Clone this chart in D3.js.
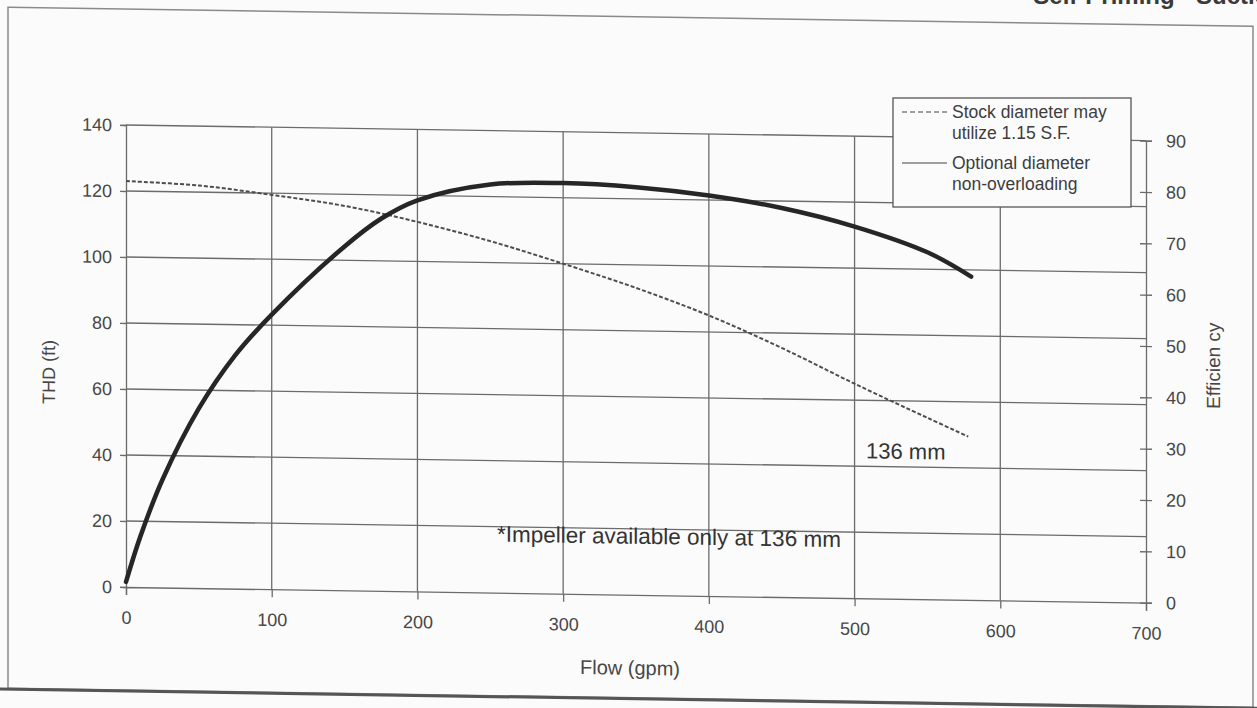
<!DOCTYPE html>
<html>
<head>
<meta charset="utf-8">
<script src="https://cdn.jsdelivr.net/npm/d3@7"></script>
<style>
  body { margin: 0; background: #fcfbfb; }
  svg { display: block; font-family: "Liberation Sans", Arial, sans-serif; }
</style>
</head>
<body>
<div id="chart"></div>
<script>
/* values */
var headFlow = [0, 50, 100, 150, 200, 250, 300, 350, 400, 450, 500, 550, 578];
var headFt   = [123, 122, 119.5, 116.5, 112, 106.5, 100, 93, 85, 75.5, 65, 55, 49.5];

var effFlow = [0, 10, 25, 50, 75, 100, 150, 175, 200, 250, 300, 350, 400, 450, 500, 550, 580];
var effPct  = [1, 10, 21, 35, 45.5, 53.5, 67, 72.5, 76.2, 79.5, 80, 79.4, 78, 75.8, 72.4, 67.6, 63];

var flowTicks = [0, 100, 200, 300, 400, 500, 600, 700];
var headTicks = [0, 20, 40, 60, 80, 100, 120, 140];
var effTicks  = [0, 10, 20, 30, 40, 50, 60, 70, 80, 90];

var legendLabels = [["Stock diameter may", "utilize 1.15 S.F."], ["Optional diameter", "non-overloading"]];

var width = 1257, height = 708;
var plotL = 126, plotR = 1146, plotT = 125, plotB = 587;

var svg = d3.select("#chart").append("svg")
    .attr("width", width)
    .attr("height", height);

/* the scan is tilted a little, so the whole sheet gets a slight skew */
var g = svg.append("g")
    .attr("transform", "translate(" + plotL + ",0) skewY(0.88) translate(" + (-plotL) + ",0)");

var x = d3.scaleLinear().domain([0, 700]).range([plotL, plotR]);
var yHead = d3.scaleLinear().domain([0, 140]).range([plotB, plotT]);
var yEff = d3.scaleLinear().domain([0, 90]).range([plotB, plotT]);

var gridColor = "#6b6b6b", textColor = "#474747";

/* page frame + cut off heading */
g.append("rect")
    .attr("x", 8).attr("y", 9)
    .attr("width", 1245).attr("height", 681)
    .style("fill", "none")
    .style("stroke", "#8a8a8a")
    .style("stroke-width", 1.5);
g.append("line")
    .attr("x1", 0).attr("x2", width)
    .attr("y1", 691).attr("y2", 691)
    .style("stroke", "#555")
    .style("stroke-width", 3);
svg.append("text")
    .attr("x", 1284).attr("y", 4)
    .attr("text-anchor", "end")
    .style("font-size", "24px")
    .style("font-weight", "bold")
    .style("fill", "#3a3a3a")
    .text("Self-Priming  - Suction");

/* grid */
g.append("g").selectAll("line")
    .data(flowTicks.slice(1, -1))
    .enter().append("line")
    .attr("x1", function(d) { return x(d); })
    .attr("x2", function(d) { return x(d); })
    .attr("y1", plotT).attr("y2", plotB)
    .style("stroke", gridColor)
    .style("stroke-width", 1.3);

g.append("g").selectAll("line")
    .data(headTicks.slice(1, -1))
    .enter().append("line")
    .attr("x1", plotL).attr("x2", plotR)
    .attr("y1", function(d) { return yHead(d); })
    .attr("y2", function(d) { return yHead(d); })
    .style("stroke", gridColor)
    .style("stroke-width", 1.3);

g.append("line")
    .attr("x1", plotL).attr("x2", plotR)
    .attr("y1", plotT).attr("y2", plotT)
    .style("stroke", gridColor)
    .style("stroke-width", 1.3);

/* axes */
var xAxis = g.append("g")
    .attr("transform", "translate(0," + plotB + ")")
    .call(d3.axisBottom(x).tickValues(flowTicks).tickSize(8).tickPadding(16));

var leftAxis = g.append("g")
    .attr("transform", "translate(" + plotL + ",0)")
    .call(d3.axisLeft(yHead).tickValues(headTicks).tickSize(6).tickPadding(8));

var rightAxis = g.append("g")
    .attr("transform", "translate(" + plotR + ",0)")
    .call(d3.axisRight(yEff).tickValues(effTicks).tickSize(6).tickPadding(14));
rightAxis.selectAll(".tick line").attr("x1", -6);

[xAxis, leftAxis, rightAxis].forEach(function(a) {
    a.select(".domain").style("stroke", gridColor).style("stroke-width", 1.3);
    a.selectAll(".tick line").style("stroke", gridColor).style("stroke-width", 1.3);
    a.selectAll("text")
        .style("font-family", "'Liberation Sans', Arial, sans-serif")
        .style("font-size", "18px")
        .style("fill", textColor);
});

/* axis titles */
g.append("text")
    .attr("x", 630).attr("y", 667)
    .attr("text-anchor", "middle")
    .style("font-size", "20px")
    .style("fill", textColor)
    .text("Flow (gpm)");

g.append("text")
    .attr("transform", "translate(55,373) rotate(-90)")
    .attr("text-anchor", "middle")
    .style("font-size", "18px")
    .style("fill", textColor)
    .text("THD (ft)");

g.append("text")
    .attr("transform", "translate(1220,349) rotate(-90)")
    .attr("text-anchor", "middle")
    .style("font-size", "19px")
    .style("fill", textColor)
    .text("Efficien cy");

/* curves */
var headLine = d3.line()
    .x(function(d, i) { return x(headFlow[i]); })
    .y(function(d) { return yHead(d); })
    .curve(d3.curveCatmullRom.alpha(0.5));

var effLine = d3.line()
    .x(function(d, i) { return x(effFlow[i]); })
    .y(function(d) { return yEff(d); })
    .curve(d3.curveCatmullRom.alpha(0.5));

g.append("path")
    .attr("d", headLine(headFt))
    .style("fill", "none")
    .style("stroke", "#4d4d4d")
    .style("stroke-width", 2)
    .style("stroke-dasharray", "4,2");

g.append("path")
    .attr("d", effLine(effPct))
    .style("fill", "none")
    .style("stroke", "#262626")
    .style("stroke-width", 4.5)
    .style("stroke-linecap", "round");

/* notes */
g.append("text")
    .attr("x", 866).attr("y", 447)
    .style("font-size", "22px")
    .style("fill", "#333")
    .text("136 mm");

g.append("text")
    .attr("x", 497).attr("y", 536)
    .style("font-size", "22.5px")
    .style("fill", "#333")
    .text("*Impeller available only at 136 mm");

/* legend box */
var leg = svg.append("g").attr("transform", "translate(893,98)");
leg.append("rect")
    .attr("width", 238).attr("height", 109)
    .style("fill", "#fcfbfb")
    .style("stroke", "#555")
    .style("stroke-width", 1.3);

leg.selectAll("line.sample")
    .data(legendLabels)
    .enter().append("line")
    .attr("class", "sample")
    .attr("x1", 9).attr("x2", 54)
    .attr("y1", function(d, i) { return 14 + i * 51; })
    .attr("y2", function(d, i) { return 14 + i * 51; })
    .style("stroke", "#444")
    .style("stroke-width", 1.2)
    .style("stroke-dasharray", function(d, i) { return i == 0 ? "5,3" : null; });

leg.selectAll("text.lab")
    .data(legendLabels)
    .enter().append("text")
    .attr("class", "lab")
    .attr("x", 59)
    .attr("y", function(d, i) { return 20 + i * 51; })
    .style("font-size", "17.5px")
    .style("fill", "#3d3d3d")
    .each(function(d) {
        var t = d3.select(this);
        d.forEach(function(s, k) {
            t.append("tspan").attr("x", 59).attr("dy", k == 0 ? 0 : 21).text(s);
        });
    });
</script>
</body>
</html>
